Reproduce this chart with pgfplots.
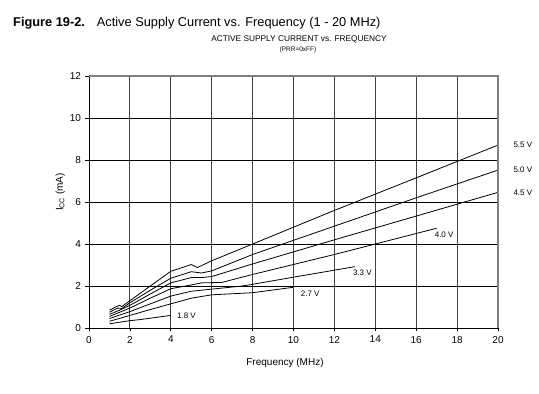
\documentclass[border=0pt]{standalone}
\usepackage{pgfplots}
\pgfplotsset{compat=1.18}
\usepackage{fontspec}
\setmainfont{Liberation Sans}
\begin{document}
\begin{tikzpicture}[x=1pt,y=1pt]
\useasboundingbox (0,0) rectangle (539,394);
\node[anchor=base west, inner sep=0] at (13,367) {\fontsize{12.8}{14}\selectfont\textbf{Figure 19-2.}};
\node[anchor=base west, inner sep=0] at (96.7,367) {\fontsize{12.8}{14}\selectfont Active Supply Current vs. Frequency (1 - 20 MHz)};
\node[anchor=base, inner sep=0] at (299,352.3) {\fontsize{8.3}{10}\selectfont ACTIVE SUPPLY CURRENT vs. FREQUENCY};
\node[anchor=base, inner sep=0] at (298,342.3) {\fontsize{6.5}{8}\selectfont (PRR=0xFF)};
\node[anchor=base, inner sep=0] at (285,28) {\fontsize{10}{12}\selectfont Frequency (MHz)};
\node[anchor=base, inner sep=0, rotate=90] at (63,202) {\fontsize{10}{12}\selectfont I\textsubscript{CC} (mA)};
\begin{axis}[at={(89pt,66pt)}, anchor=south west, scale only axis,
  width=409pt, height=252pt,
  xmin=0, xmax=20, ymin=0, ymax=12,
  xtick={0,2,...,20}, ytick={0,2,...,12},
  axis x line*=bottom, axis y line*=left,
  axis line style={-, black, line width=0.9pt},
  tick align=outside, major tick length=3.5pt,
  tick style={black, line width=0.8pt},
  grid=major,
  x grid style={black!75, line width=0.9pt},
  y grid style={black, line width=0.9pt},
  ticklabel style={font=\fontsize{10}{12}\selectfont},
  /pgf/number format/assume math mode=true,
  yticklabel style={xshift=-1pt},
  xticklabel style={yshift=-1pt},
  clip=false,
  curve/.style={black, line width=0.8pt, mark=none},
]
% 5.5 V
\addplot[curve] coordinates {(1,0.85) (1.3,1.0) (1.5,1.08) (1.6,1.02) (2,1.3) (3,2.0) (4,2.7) (5,3.02) (5.3,2.88) (6,3.2) (8,4.0) (12,5.6) (16,7.15) (20,8.71)};
% 5.0 V
\addplot[curve] coordinates {(1,0.75) (1.4,0.95) (1.6,0.93) (2,1.2) (3,1.8) (4,2.37) (5,2.68) (5.5,2.62) (6,2.72) (8,3.5) (12,4.85) (16,6.2) (20,7.52)};
% 4.5 V
\addplot[curve] coordinates {(1,0.65) (1.5,0.85) (2,1.08) (3,1.62) (4,2.15) (5,2.4) (5.5,2.4) (6,2.45) (8,3.05) (12,4.2) (16,5.33) (20,6.46)};
% 4.0 V
\addplot[curve] coordinates {(1,0.55) (2,0.95) (3,1.42) (4,1.87) (5,2.05) (5.5,2.15) (6.5,2.17) (8,2.55) (12,3.5) (17,4.75)};
% 3.3 V
\addplot[curve] coordinates {(1,0.45) (2,0.78) (3,1.15) (4,1.52) (5,1.75) (6,1.85) (7.5,2.0) (8,2.08) (10,2.42) (13,2.92)};
% 2.7 V
\addplot[curve] coordinates {(1,0.32) (2,0.6) (3,0.88) (4,1.15) (5,1.42) (6,1.58) (8,1.68) (10,1.94)};
% 1.8 V
\addplot[curve] coordinates {(1,0.2) (2,0.35) (2.5,0.4) (4,0.6)};
\draw[black!50, line width=1.2pt] (rel axis cs:0,1) -- (rel axis cs:1,1) -- (rel axis cs:1,0);
\begin{scope}[every node/.style={font=\fontsize{8}{10}\selectfont, inner sep=0, anchor=west}]
\node at (axis cs:20.75,8.71) {5.5 V};
\node at (axis cs:20.75,7.52) {5.0 V};
\node at (axis cs:20.75,6.46) {4.5 V};
\node at (axis cs:16.9,4.45) {4.0 V};
\node at (axis cs:12.9,2.62) {3.3 V};
\node at (axis cs:10.35,1.62) {2.7 V};
\node at (axis cs:4.3,0.57) {1.8 V};
\end{scope}
\end{axis}
\end{tikzpicture}
\end{document}
